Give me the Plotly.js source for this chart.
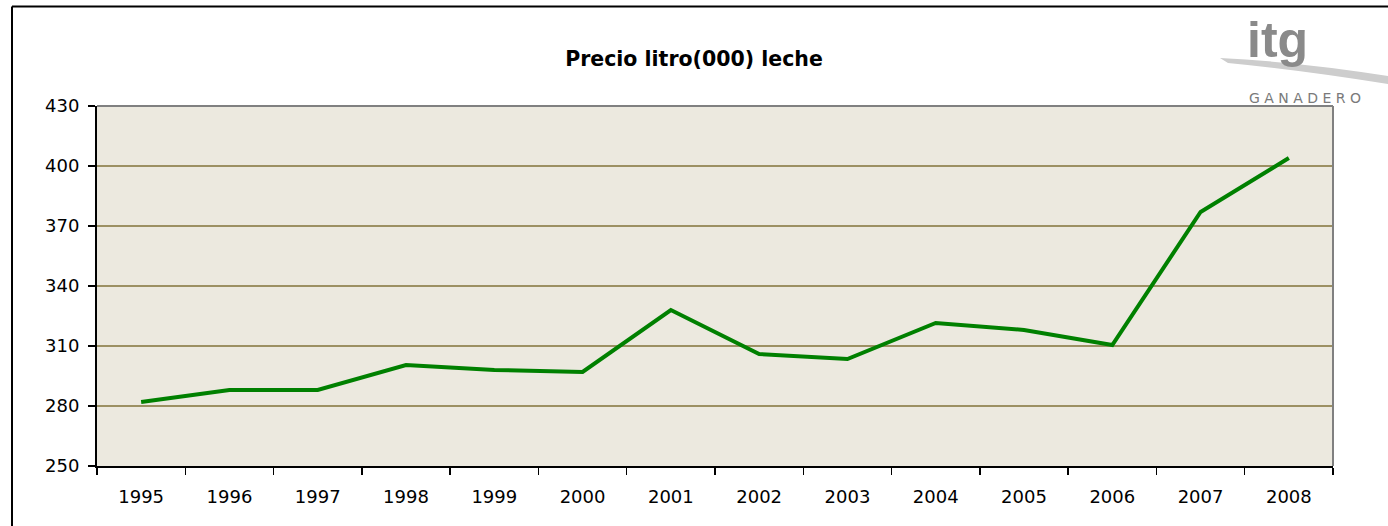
<!DOCTYPE html>
<html>
<head>
<meta charset="utf-8">
<script src="https://cdn.plot.ly/plotly-3.0.1.min.js"></script>
<style>
html,body{margin:0;padding:0;background:#fff;}
#chart{width:1388px;height:526px;}
</style>
</head>
<body>
<div id="chart"></div>
<script>
const years = ["1995","1996","1997","1998","1999","2000","2001","2002","2003","2004","2005","2006","2007","2008"];
const prices = [282, 288, 288, 300.5, 298, 297, 328, 306, 303.5, 321.5, 318, 310.5, 377, 404];
const yTicks = [250, 280, 310, 340, 370, 400, 430];
const chartTitle = "Precio litro(000) leche";

// plot-area geometry helpers (pixels -> paper)
const L = 97, R = 1333, T = 106, B = 466;
const px = x => (x - L) / (R - L);
const py = y => (B - y) / (B - T);
const FONT = "DejaVu Sans, Liberation Sans, Arial, sans-serif";

const trace = {
  x: years, y: prices, type: "scatter", mode: "lines",
  line: {color: "#008000", width: 4},
  hoverinfo: "x+y"
};

const layout = {
  width: 1388, height: 526,
  margin: {l: L, r: 1388 - R, t: T, b: 526 - B, pad: 0},
  paper_bgcolor: "#ffffff",
  plot_bgcolor: "#ECE9DF",
  showlegend: false,
  font: {family: FONT, color: "#000", size: 17},
  title: {
    text: "<b>" + chartTitle + "</b>",
    font: {family: FONT, size: 20.5, color: "#000"},
    x: 694 / 1388, xanchor: "center", xref: "container",
    y: 1 - 59 / 526, yanchor: "middle", yref: "container"
  },
  xaxis: {
    type: "category",
    range: [-0.5, 13.5],
    tickson: "boundaries",
    ticks: "outside", ticklen: 7, tickwidth: 1.5, tickcolor: "#000",
    showline: true, linecolor: "#000", linewidth: 2,
    showgrid: false, zeroline: false,
    tickfont: {size: 18},
    ticklabelstandoff: 13,
    fixedrange: true
  },
  yaxis: {
    range: [250, 430],
    tickvals: yTicks,
    ticktext: yTicks.map(String),
    ticks: "outside", ticklen: 7, tickwidth: 1.5, tickcolor: "#000",
    showline: true, linecolor: "#000", linewidth: 2,
    showgrid: true, gridcolor: "#9C9063", gridwidth: 1.6,
    zeroline: false,
    tickfont: {size: 18},
    ticklabelstandoff: 5,
    fixedrange: true
  },
  shapes: [
    // gray top and right plot frame
    {type: "line", xref: "paper", yref: "paper", x0: 0, x1: 1, y0: 1, y1: 1, line: {color: "#808080", width: 2}},
    {type: "line", xref: "paper", yref: "paper", x0: 1, x1: 1, y0: 0, y1: 1, line: {color: "#808080", width: 2}},
    // outer chart border (top and left)
    {type: "line", xref: "paper", yref: "paper", x0: px(12), x1: px(1390), y0: py(6.5), y1: py(6.5), line: {color: "#000", width: 2}},
    {type: "line", xref: "paper", yref: "paper", x0: px(12), x1: px(12), y0: py(6.5), y1: py(530), line: {color: "#000", width: 2}},
    // logo swoosh
    {type: "path", xref: "paper", yref: "paper", layer: "above",
     path: "M " + px(1220) + "," + py(58) +
           " Q " + px(1300) + "," + py(62) + " " + px(1388) + "," + py(76) +
           " L " + px(1388) + "," + py(84) +
           " Q " + px(1300) + "," + py(70) + " " + px(1228) + "," + py(63) + " Z",
     fillcolor: "#CDCDCD", line: {width: 0}}
  ],
  annotations: [
    {text: "<b>itg</b>", xref: "paper", yref: "paper", x: px(1277), y: py(40),
     xanchor: "center", yanchor: "middle", showarrow: false,
     font: {family: "Liberation Sans, Arial, sans-serif", size: 50, color: "#8A8A8A"}},
    {text: "G A N A D E R O", xref: "paper", yref: "paper", x: px(1305), y: py(98),
     xanchor: "center", yanchor: "middle", showarrow: false,
     font: {family: "DejaVu Sans, sans-serif", size: 14, color: "#7A7A7A"}}
  ]
};

Plotly.newPlot("chart", [trace], layout, {displayModeBar: false, staticPlot: true});
</script>
</body>
</html>
